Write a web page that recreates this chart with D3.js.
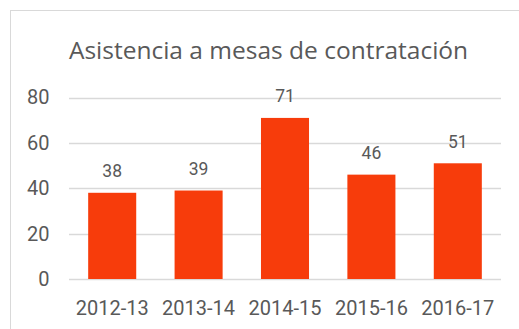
<!DOCTYPE html>
<html>
<head>
<meta charset="utf-8">
<script src="https://cdn.jsdelivr.net/npm/d3@7"></script>
<style>
  html, body { margin: 0; padding: 0; background: #ffffff; }
  svg { display: block; }
</style>
</head>
<body>
<svg id="chart" width="519" height="329"></svg>
<script>
// Assistance to hiring boards, per academic year
const categories = ["2012-13", "2013-14", "2014-15", "2015-16", "2016-17"];
const values = [38, 39, 71, 46, 51];
const yTicks = [0, 20, 40, 60, 80];
const title = "Asistencia a mesas de contratación";

const svg = d3.select("#chart");
const W = 519, H = 329;
const margin = { left: 69, right: 18, top: 97.5, bottom: 50 };
const textColor = "#595959";
const gridColor = "#d9d9d9";
const barColor = "#f73c0b";

// Chart area frame (open on the right and bottom edges of the window)
svg.append("rect")
  .attr("x", 10.5).attr("y", 10.5)
  .attr("width", W + 20).attr("height", H + 20)
  .attr("fill", "#ffffff")
  .attr("stroke", gridColor).attr("stroke-width", 1);

const x = d3.scaleBand()
  .domain(categories)
  .range([margin.left, W - margin.right])
  .paddingInner(0.444)
  .paddingOuter(0.222);

const y = d3.scaleLinear()
  .domain([0, 80])
  .range([279, margin.top]);

// Title
svg.append("text")
  .attr("x", 268.5).attr("y", 58.5)
  .attr("text-anchor", "middle")
  .attr("fill", textColor)
  .style("font-family", "'Open Sans', sans-serif")
  .style("font-size", "24.5px")
  .text(title);

// Horizontal gridlines + value axis labels
const yAxis = d3.axisLeft(y).tickValues(yTicks).tickSize(0).tickPadding(19.5);
const gy = svg.append("g").attr("transform", `translate(${margin.left},0)`).call(yAxis);
gy.select(".domain").remove();
gy.selectAll(".tick text")
  .attr("fill", textColor)
  .style("font-family", "Roboto, sans-serif")
  .style("font-size", "20px");

svg.append("g").selectAll("line")
  .data(yTicks)
  .join("line")
  .attr("x1", margin.left).attr("x2", W - margin.right)
  .attr("y1", d => Math.round(y(d)) + 0.5).attr("y2", d => Math.round(y(d)) + 0.5)
  .attr("stroke", gridColor).attr("stroke-width", 1.5);

// Bars
svg.append("g").selectAll("rect")
  .data(values)
  .join("rect")
  .attr("x", (d, i) => x(categories[i]))
  .attr("width", x.bandwidth())
  .attr("y", d => y(d))
  .attr("height", d => y(0) - y(d))
  .attr("fill", barColor);

// Value labels above bars
svg.append("g").selectAll("text")
  .data(values)
  .join("text")
  .attr("x", (d, i) => x(categories[i]) + x.bandwidth() / 2)
  .attr("y", d => y(d) - 15.5)
  .attr("text-anchor", "middle")
  .attr("fill", textColor)
  .style("font-family", "Roboto, sans-serif")
  .style("font-size", "17.5px")
  .text(d => d);

// Category axis labels
const xAxis = d3.axisBottom(x).tickSize(0).tickPadding(0);
const gx = svg.append("g").attr("transform", `translate(0,${y(0)})`).call(xAxis);
gx.select(".domain").remove();
gx.selectAll(".tick text")
  .attr("dy", "35.5px")
  .attr("fill", textColor)
  .style("font-family", "Roboto, sans-serif")
  .style("font-size", "20px");
</script>
</body>
</html>
